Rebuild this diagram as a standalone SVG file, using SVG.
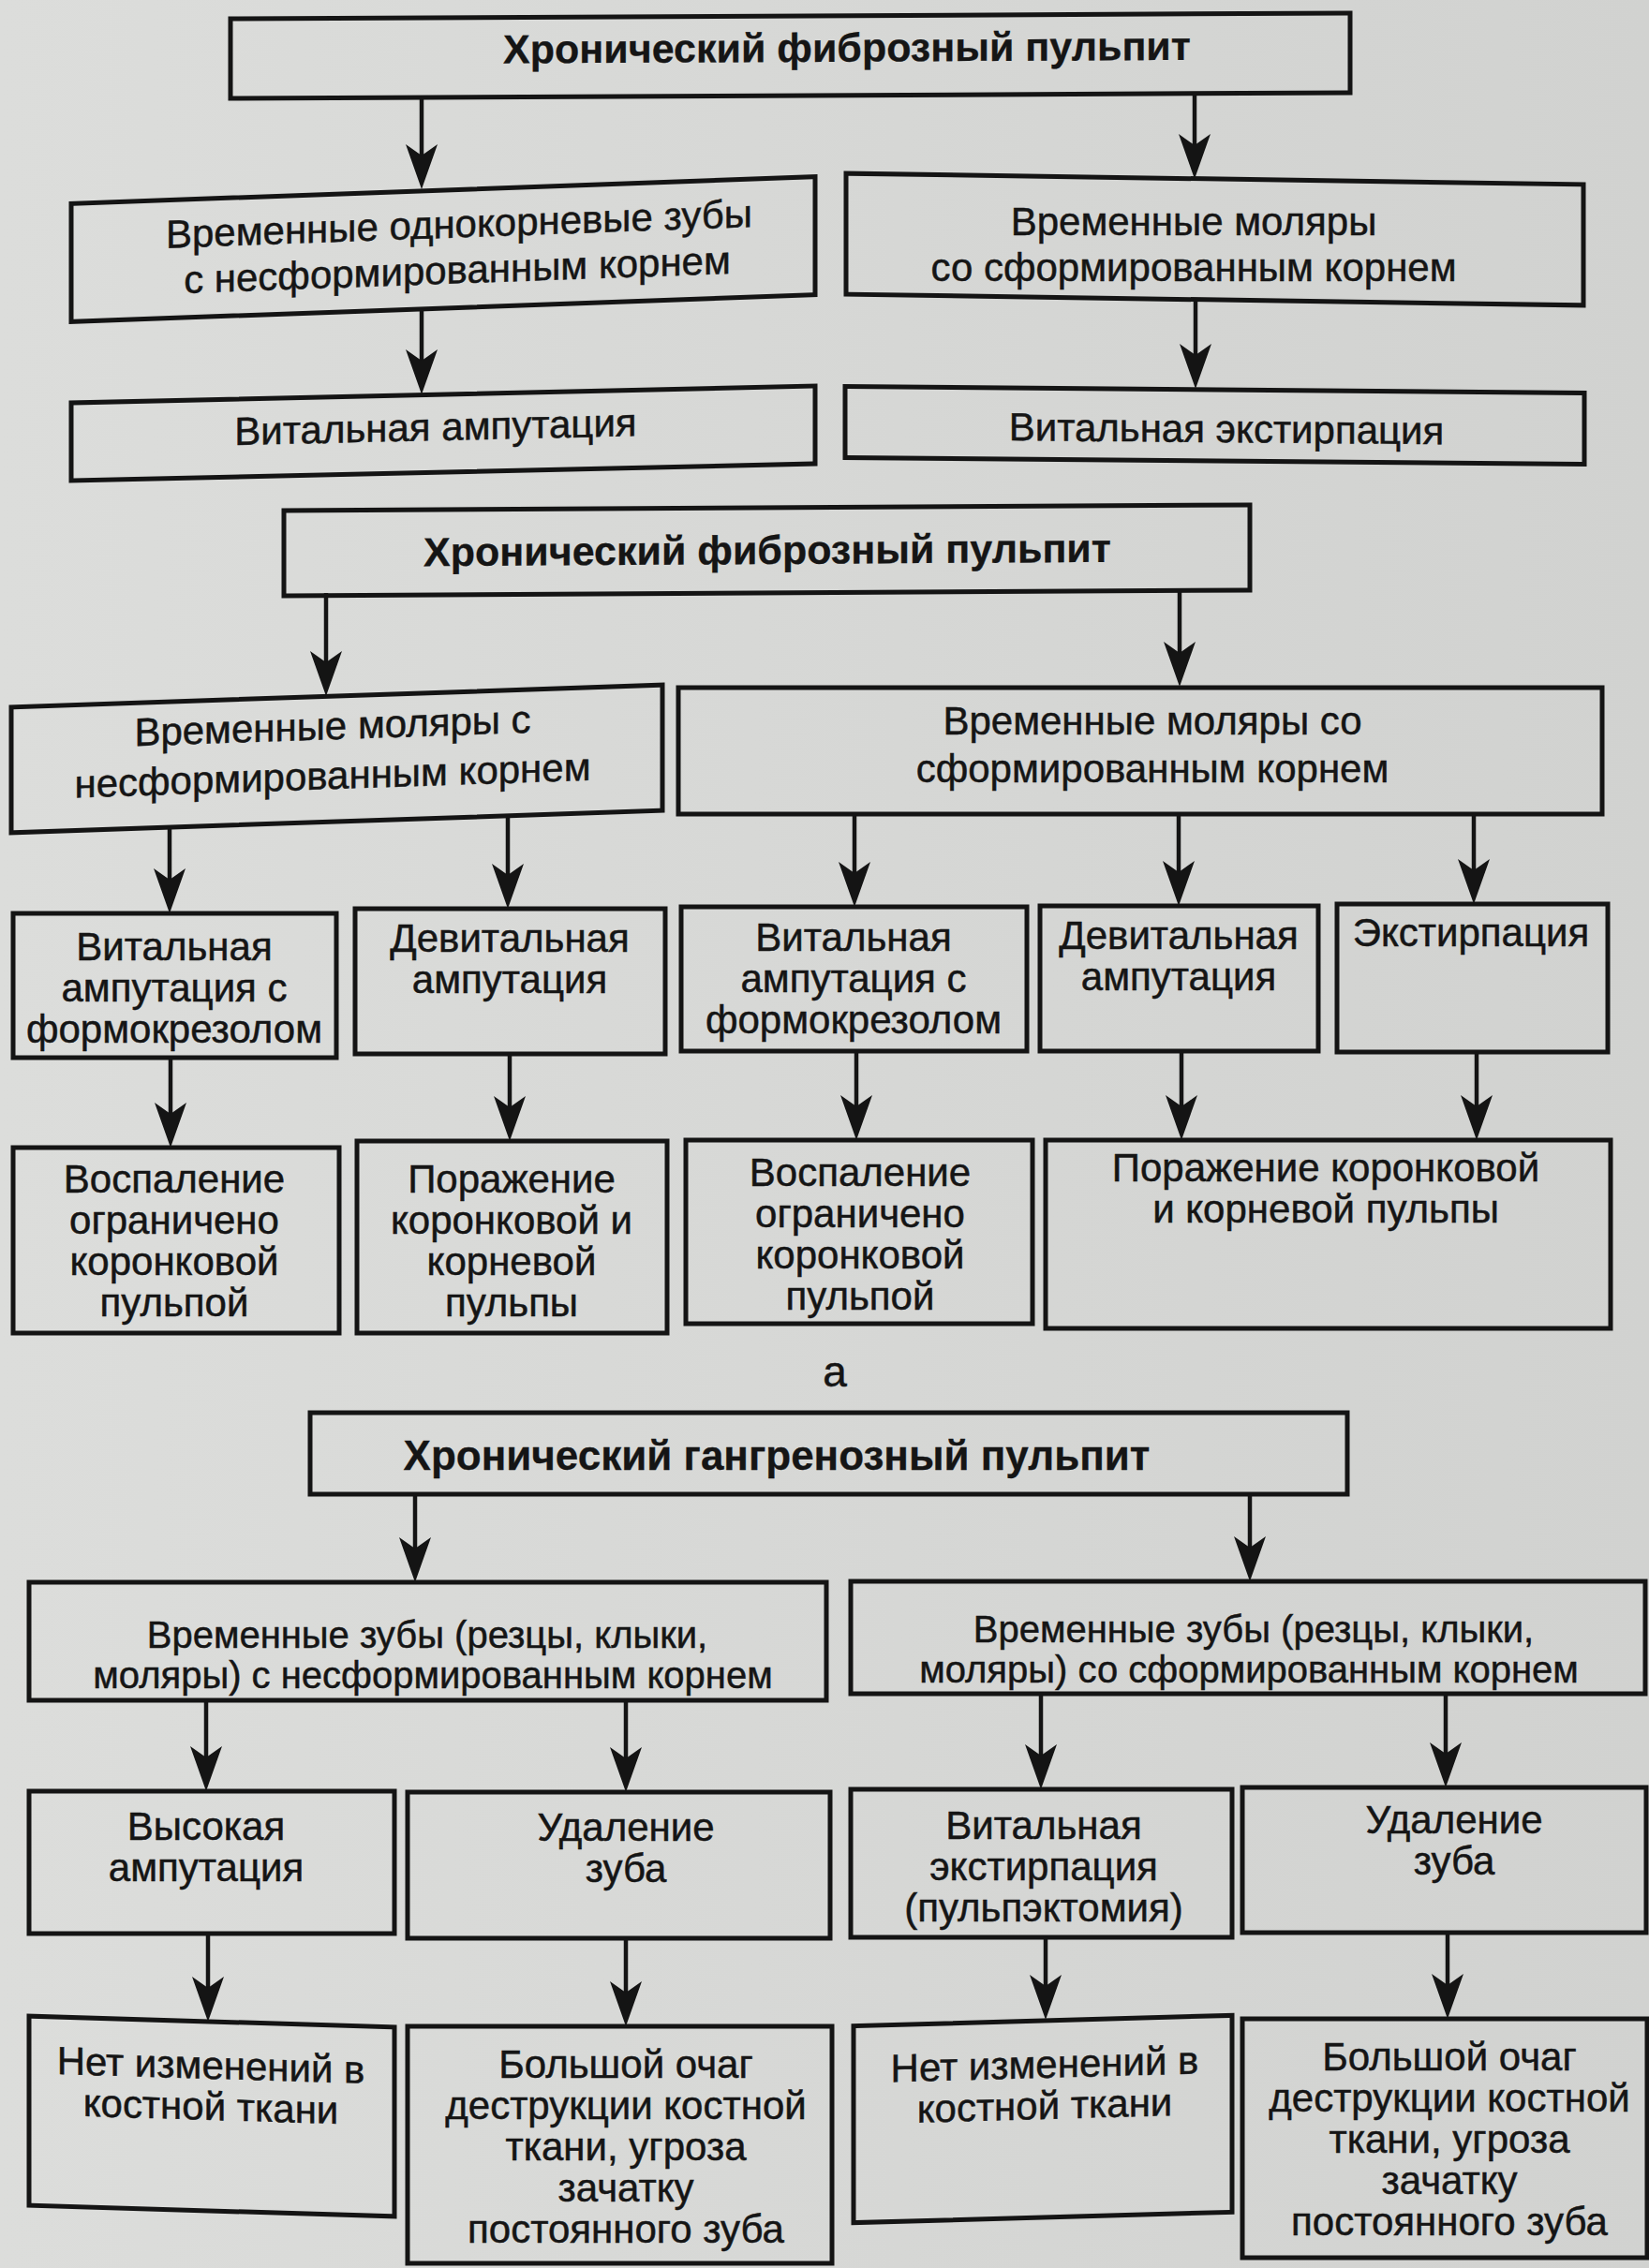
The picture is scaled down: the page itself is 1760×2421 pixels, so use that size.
<svg xmlns="http://www.w3.org/2000/svg" width="1760" height="2421" viewBox="0 0 1760 2421">
<style>
.box{fill:none;stroke:#141414;stroke-width:5}
.t{font-family:"Liberation Sans",Arial,sans-serif;font-size:42px;fill:#151515;stroke:#151515;stroke-width:0.5;text-anchor:middle}
.b{font-weight:bold;font-size:43px;stroke-width:0.3}
.s{font-size:40px}
.c{stroke:#141414;stroke-width:4.5;fill:none;marker-end:url(#ah)}
</style>
<defs>
<linearGradient id="bg" x1="0" y1="0" x2="1" y2="0">
<stop offset="0" stop-color="#dcdddb"/>
<stop offset="1" stop-color="#d1d2d0"/>
</linearGradient>
<marker id="ah" markerUnits="userSpaceOnUse" markerWidth="50" markerHeight="36" refX="18" refY="17" orient="auto" viewBox="0 0 50 36">
<path d="M0,0 L48,17 L0,34 L12,17 Z" fill="#141414"/>
</marker>
</defs>
<rect x="0" y="0" width="1760" height="2421" fill="url(#bg)"/>

<g id="connectors">
<line class="c" x1="450" y1="104" x2="450" y2="172"/>
<line class="c" x1="1275" y1="99" x2="1275" y2="161"/>
<line class="c" x1="450" y1="330" x2="450" y2="391"/>
<line class="c" x1="1276" y1="320" x2="1276" y2="385"/>
<line class="c" x1="348" y1="633" x2="348" y2="713"/>
<line class="c" x1="1259" y1="632" x2="1259" y2="703"/>
<line class="c" x1="181" y1="883" x2="181" y2="945"/>
<line class="c" x1="542" y1="871" x2="542" y2="940"/>
<line class="c" x1="912" y1="869" x2="912" y2="938"/>
<line class="c" x1="1258" y1="869" x2="1258" y2="937"/>
<line class="c" x1="1573" y1="869" x2="1573" y2="935"/>
<line class="c" x1="182" y1="1129" x2="182" y2="1195"/>
<line class="c" x1="544" y1="1125" x2="544" y2="1188"/>
<line class="c" x1="914" y1="1122" x2="914" y2="1187"/>
<line class="c" x1="1261" y1="1122" x2="1261" y2="1187"/>
<line class="c" x1="1576" y1="1123" x2="1576" y2="1187"/>
<line class="c" x1="443" y1="1595" x2="443" y2="1659"/>
<line class="c" x1="1334" y1="1595" x2="1334" y2="1658"/>
<line class="c" x1="220" y1="1815" x2="220" y2="1882"/>
<line class="c" x1="668" y1="1815" x2="668" y2="1883"/>
<line class="c" x1="1111" y1="1808" x2="1111" y2="1880"/>
<line class="c" x1="1543" y1="1808" x2="1543" y2="1878"/>
<line class="c" x1="222" y1="2064" x2="222" y2="2128"/>
<line class="c" x1="668" y1="2069" x2="668" y2="2133"/>
<line class="c" x1="1116" y1="2068" x2="1116" y2="2126"/>
<line class="c" x1="1545" y1="2063" x2="1545" y2="2125"/>
</g>

<g id="n1" transform="matrix(1 -0.005 0 1 0 4.215)">
<rect class="box" x="246" y="17" width="1195" height="85"/>
<text class="t b" x="904" y="66">Хронический фиброзный пульпит</text>
</g>
<g id="n2" transform="matrix(1 -0.036 0 1 0 17.03)">
<rect class="box" x="76" y="203" width="794" height="126"/>
<text class="t" x="490" y="254">Временные однокорневые зубы</text>
<text class="t" x="488" y="303">с несформированным корнем</text>
</g>
<g id="n3">
<rect class="box" x="903" y="191" width="787" height="129" transform="matrix(1 0.015 0 1 0 -19.455)"/>
<text class="t" x="1274" y="251">Временные моляры</text>
<text class="t" x="1274" y="300">со сформированным корнем</text>
</g>
<g id="n4" transform="matrix(1 -0.0227 0 1 0 10.74)">
<rect class="box" x="76" y="421" width="794" height="83"/>
<text class="t" x="465" y="470">Витальная ампутация</text>
</g>
<g id="n5" transform="matrix(1 0.009 0 1 0 -11.67)">
<rect class="box" x="902" y="416" width="789" height="76"/>
<text class="t" x="1309" y="472">Витальная экстирпация</text>
</g>

<g id="n6" transform="matrix(1 -0.006 0 1 0 4.91)">
<rect class="box" x="303" y="542" width="1031" height="91"/>
<text class="t b" x="819" y="602">Хронический фиброзный пульпит</text>
</g>
<g id="n7" transform="matrix(1 -0.034 0 1 0 12.24)">
<rect class="box" x="12" y="743" width="695" height="134"/>
<text class="t" x="355" y="789">Временные моляры с</text>
<text class="t" x="355" y="842">несформированным корнем</text>
</g>
<g id="n8">
<rect class="box" x="724" y="734" width="986" height="135"/>
<text class="t" x="1230" y="784">Временные моляры со</text>
<text class="t" x="1230" y="835">сформированным корнем</text>
</g>
<g id="n9">
<rect class="box" x="14" y="975" width="345" height="154"/>
<text class="t" x="186" y="1025">Витальная</text>
<text class="t" x="186" y="1069">ампутация с</text>
<text class="t" x="186" y="1113">формокрезолом</text>
</g>
<g id="n10">
<rect class="box" x="379" y="970" width="331" height="155"/>
<text class="t" x="544" y="1016">Девитальная</text>
<text class="t" x="544" y="1060">ампутация</text>
</g>
<g id="n11">
<rect class="box" x="727" y="968" width="369" height="154"/>
<text class="t" x="911" y="1015">Витальная</text>
<text class="t" x="911" y="1059">ампутация с</text>
<text class="t" x="911" y="1103">формокрезолом</text>
</g>
<g id="n12">
<rect class="box" x="1110" y="967" width="297" height="155"/>
<text class="t" x="1258" y="1013">Девитальная</text>
<text class="t" x="1258" y="1057">ампутация</text>
</g>
<g id="n13">
<rect class="box" x="1427" y="965" width="289" height="158"/>
<text class="t" x="1570" y="1010">Экстирпация</text>
</g>
<g id="n14">
<rect class="box" x="14" y="1225" width="348" height="198"/>
<text class="t" x="186" y="1273">Воспаление</text>
<text class="t" x="186" y="1317">ограничено</text>
<text class="t" x="186" y="1361">коронковой</text>
<text class="t" x="186" y="1405">пульпой</text>
</g>
<g id="n15">
<rect class="box" x="381" y="1218" width="331" height="205"/>
<text class="t" x="546" y="1273">Поражение</text>
<text class="t" x="546" y="1317">коронковой и</text>
<text class="t" x="546" y="1361">корневой</text>
<text class="t" x="546" y="1405">пульпы</text>
</g>
<g id="n16">
<rect class="box" x="732" y="1217" width="370" height="196"/>
<text class="t" x="918" y="1266">Воспаление</text>
<text class="t" x="918" y="1310">ограничено</text>
<text class="t" x="918" y="1354">коронковой</text>
<text class="t" x="918" y="1398">пульпой</text>
</g>
<g id="n17">
<rect class="box" x="1116" y="1217" width="603" height="201"/>
<text class="t" x="1415" y="1261">Поражение коронковой</text>
<text class="t" x="1415" y="1305">и корневой пульпы</text>
</g>

<text id="label-a" class="t" x="891" y="1480" style="font-size:46px">а</text>

<g id="n18">
<rect class="box" x="331" y="1508" width="1107" height="87"/>
<text class="t b" x="829" y="1569" style="font-size:44px">Хронический гангренозный пульпит</text>
</g>
<g id="n19">
<rect class="box" x="31" y="1689" width="851" height="126"/>
<text class="t s" x="456" y="1759">Временные зубы (резцы, клыки,</text>
<text class="t s" x="462" y="1802">моляры) с несформированным корнем</text>
</g>
<g id="n20">
<rect class="box" x="908" y="1688" width="848" height="120"/>
<text class="t s" x="1338" y="1753">Временные зубы (резцы, клыки,</text>
<text class="t s" x="1333" y="1796">моляры) со сформированным корнем</text>
</g>
<g id="n21">
<rect class="box" x="31" y="1912" width="390" height="152"/>
<text class="t" x="220" y="1964">Высокая</text>
<text class="t" x="220" y="2008">ампутация</text>
</g>
<g id="n22">
<rect class="box" x="435" y="1913" width="451" height="156"/>
<text class="t" x="668" y="1965">Удаление</text>
<text class="t" x="668" y="2009">зуба</text>
</g>
<g id="n23">
<rect class="box" x="908" y="1910" width="407" height="158"/>
<text class="t" x="1114" y="1963">Витальная</text>
<text class="t" x="1114" y="2007">экстирпация</text>
<text class="t" x="1114" y="2051">(пульпэктомия)</text>
</g>
<g id="n24">
<rect class="box" x="1326" y="1908" width="431" height="155"/>
<text class="t" x="1552" y="1957">Удаление</text>
<text class="t" x="1552" y="2001">зуба</text>
</g>
<g id="n25" transform="matrix(1 0.03 0 1 0 -6.78)">
<rect class="box" x="31" y="2158" width="390" height="202"/>
<text class="t" x="225" y="2219">Нет изменений в</text>
<text class="t" x="225" y="2263">костной ткани</text>
</g>
<g id="n26">
<rect class="box" x="435" y="2163" width="453" height="253"/>
<text class="t" x="668" y="2218">Большой очаг</text>
<text class="t" x="668" y="2262">деструкции костной</text>
<text class="t" x="668" y="2306">ткани, угроза</text>
<text class="t" x="668" y="2350">зачатку</text>
<text class="t" x="668" y="2394">постоянного зуба</text>
</g>
<g id="n27" transform="matrix(1 -0.028 0 1 0 31.16)">
<rect class="box" x="911" y="2157" width="404" height="210"/>
<text class="t" x="1115" y="2218">Нет изменений в</text>
<text class="t" x="1115" y="2262">костной ткани</text>
</g>
<g id="n28">
<rect class="box" x="1326" y="2155" width="432" height="255"/>
<text class="t" x="1547" y="2210">Большой очаг</text>
<text class="t" x="1547" y="2254">деструкции костной</text>
<text class="t" x="1547" y="2298">ткани, угроза</text>
<text class="t" x="1547" y="2342">зачатку</text>
<text class="t" x="1547" y="2386">постоянного зуба</text>
</g>
</svg>
